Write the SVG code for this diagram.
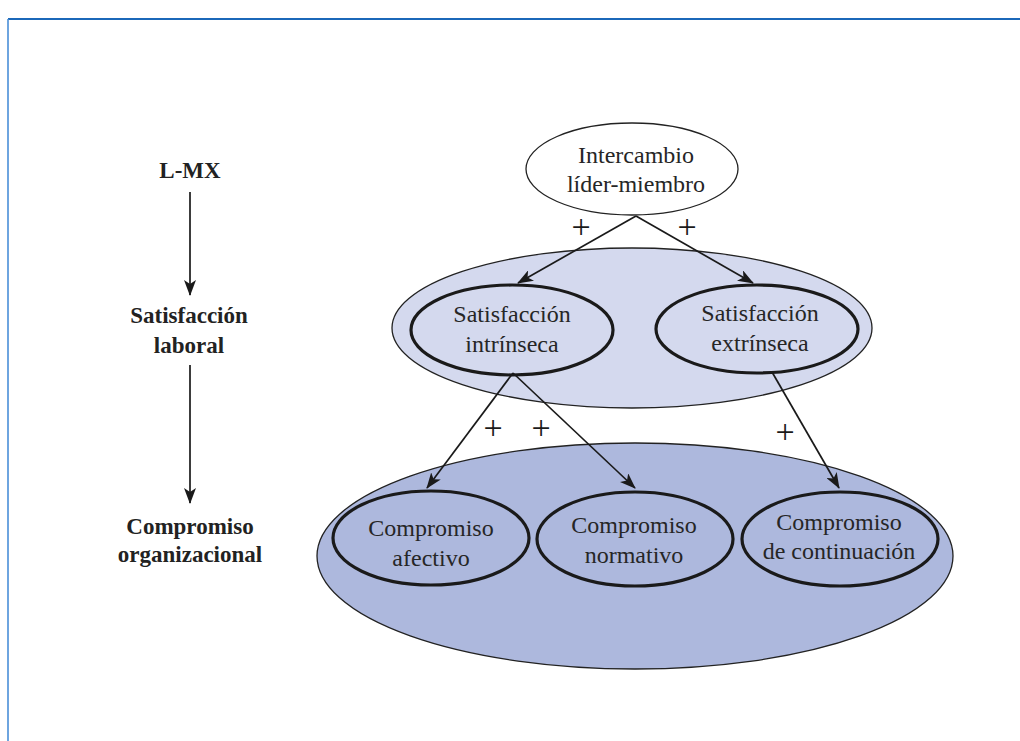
<svg xmlns="http://www.w3.org/2000/svg" width="1020" height="741" viewBox="0 0 1020 741">
<defs>
<style>
.t{font-family:"Liberation Serif","Times New Roman",serif;font-size:24px;fill:#262626;text-anchor:middle}
.b{font-family:"Liberation Serif","Times New Roman",serif;font-size:23px;font-weight:bold;fill:#222;text-anchor:middle}
.p{font-family:"Liberation Serif","Times New Roman",serif;font-size:34px;fill:#1a1a1a;text-anchor:middle}
.c1{fill:#d4d9ee;stroke:#222;stroke-width:1.3}
.c2{fill:#adb8dd;stroke:#222;stroke-width:1.3}
.n1{fill:#d4d9ee;stroke:#1a1a1a;stroke-width:3.2}
.n2{fill:#adb8dd;stroke:#1a1a1a;stroke-width:3.2}
.e{stroke:#1a1a1a;stroke-width:1.7;fill:none;marker-end:url(#ah)}
</style>
<marker id="ah" viewBox="0 0 16 12" refX="15" refY="6" markerWidth="16" markerHeight="12" markerUnits="userSpaceOnUse" orient="auto">
<path d="M0,0 L16,6 L0,12 L4,6 Z" fill="#1a1a1a"/>
</marker>
</defs>
<rect width="1020" height="741" fill="#fff"/>
<g id="frame">
<line x1="8" y1="19" x2="1020" y2="19" stroke="#1b68b9" stroke-width="2.2"/>
<line x1="8" y1="19" x2="8" y2="741" stroke="#4a8fd8" stroke-width="1.6"/>
</g>
<g id="container-satisfaccion">
<ellipse class="c1" cx="632" cy="328" rx="240" ry="80"/>
</g>
<g id="container-compromiso">
<ellipse class="c2" cx="635" cy="556" rx="318" ry="113"/>
</g>
<g id="node-intercambio">
<ellipse cx="632" cy="169" rx="106" ry="46" fill="#fff" stroke="#222" stroke-width="1.3"/>
<text class="t" x="636" y="163">Intercambio</text>
<text class="t" x="636" y="192">líder-miembro</text>
</g>
<g id="node-intrinseca">
<ellipse class="n1" cx="512" cy="330" rx="101" ry="45"/>
<text class="t" x="512" y="322">Satisfacción</text>
<text class="t" x="512" y="352">intrínseca</text>
</g>
<g id="node-extrinseca">
<ellipse class="n1" cx="757" cy="329" rx="101" ry="44"/>
<text class="t" x="760" y="321">Satisfacción</text>
<text class="t" x="760" y="351">extrínseca</text>
</g>
<g id="node-afectivo">
<ellipse class="n2" cx="431" cy="538" rx="98" ry="47"/>
<text class="t" x="431" y="536">Compromiso</text>
<text class="t" x="431" y="566">afectivo</text>
</g>
<g id="node-normativo">
<ellipse class="n2" cx="635" cy="539" rx="98" ry="47"/>
<text class="t" x="634" y="533">Compromiso</text>
<text class="t" x="634" y="563">normativo</text>
</g>
<g id="node-continuacion">
<ellipse class="n2" cx="840" cy="539" rx="98" ry="47"/>
<text class="t" x="839" y="530">Compromiso</text>
<text class="t" x="839" y="559">de continuación</text>
</g>
<g id="label-lmx"><text class="b" x="190" y="178">L-MX</text></g>
<g id="label-satisfaccion"><text class="b" x="189" y="323">Satisfacción</text><text class="b" x="189" y="353">laboral</text></g>
<g id="label-compromiso"><text class="b" x="190" y="534">Compromiso</text><text class="b" x="190" y="562">organizacional</text></g>
<g id="connectors">
<line class="e" x1="636" y1="216" x2="518" y2="283"/>
<line class="e" x1="636" y1="216" x2="753" y2="283"/>
<line class="e" x1="513" y1="373" x2="427" y2="488"/>
<line class="e" x1="513" y1="373" x2="635" y2="488"/>
<line class="e" x1="772" y1="372" x2="839" y2="488"/>
<line class="e" x1="190" y1="192" x2="190" y2="295"/>
<line class="e" x1="190" y1="365" x2="190" y2="503"/>
</g>
<g id="signs">
<text class="p" x="581" y="238">+</text>
<text class="p" x="687" y="238">+</text>
<text class="p" x="493" y="439">+</text>
<text class="p" x="541" y="439">+</text>
<text class="p" x="785" y="443">+</text>
</g>
</svg>
